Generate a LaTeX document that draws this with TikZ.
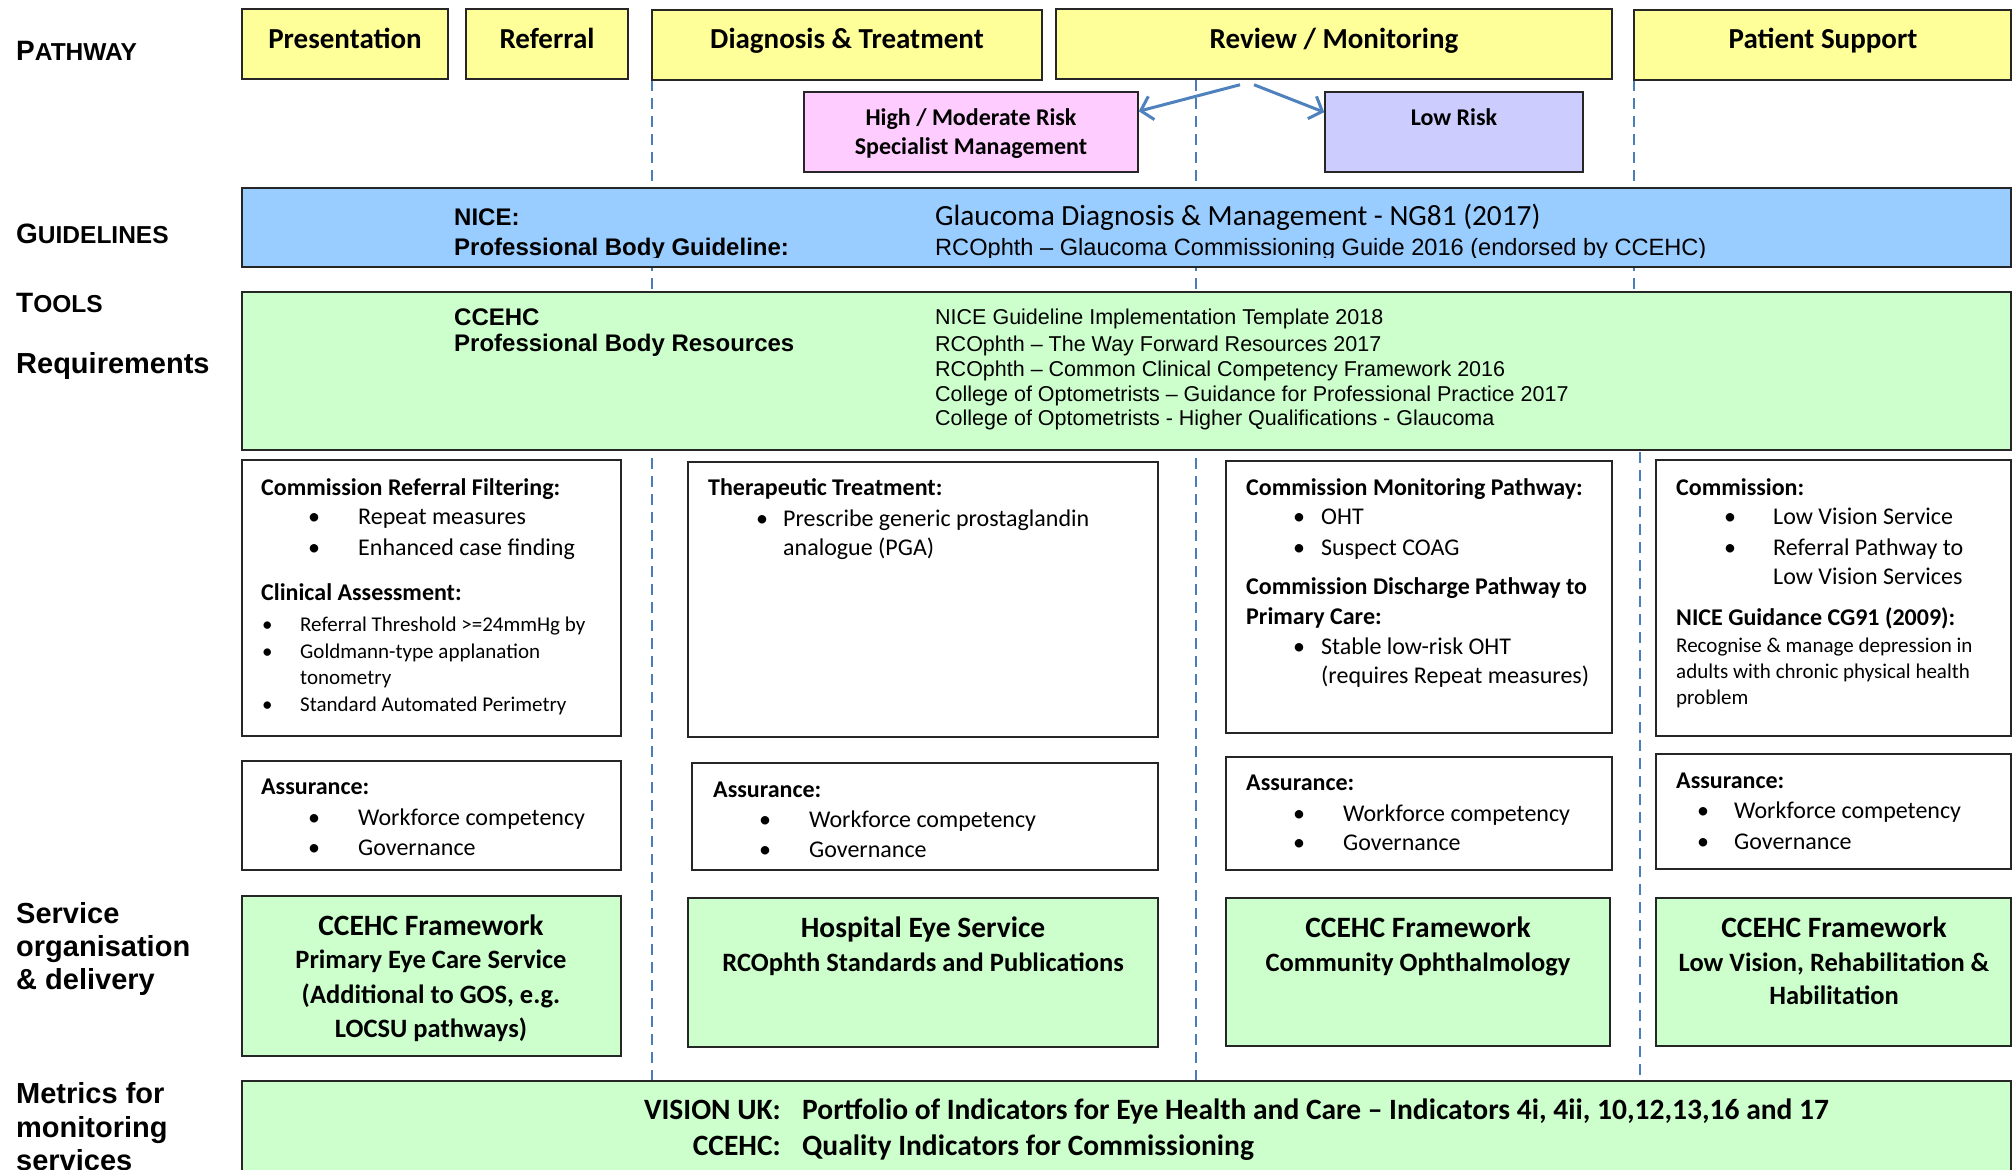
\documentclass[tikz,border=0pt]{standalone}
\usepackage{fontspec}
\setmainfont{Carlito}
\newfontfamily\arialf{Liberation Sans}
\usetikzlibrary{fit,arrows.meta}
\newcommand\fs[1]{\fontsize{#1}{#1}\selectfont}
\definecolor{yel}{HTML}{FFFF99}
\definecolor{pnk}{HTML}{FFCCFF}
\definecolor{lav}{HTML}{CCCCFF}
\definecolor{blu}{HTML}{99CCFF}
\definecolor{grn}{HTML}{CCFFCC}
\definecolor{dashblue}{HTML}{4A7EBB}
\definecolor{arrblue}{HTML}{4F81BD}
\newcommand\mkbox[6]{\node[bx,fill=#2,fit={(#3,#4)(#5,#6)}] (#1) {};}
\tikzset{
  bx/.style={draw=black!85, line width=1.5pt, inner sep=0pt},
  lbl/.style={anchor=base west, inner sep=0pt, font=\arialf\bfseries},
  tl/.style={anchor=base west, inner sep=0pt},
  tc/.style={anchor=base, inner sep=0pt},
  tr/.style={anchor=base east, inner sep=0pt},
  dline/.style={draw=dashblue, dash pattern=on 11pt off 7pt, line width=2.2pt},
  arr/.style={draw=arrblue, line width=3pt, -{Straight Barb[length=11pt,width=24pt,line width=3pt]}},
  hd/.style={tc, font=\fs{29}\bfseries},
  bh/.style={tl, font=\fs{24}\bfseries},
  bt/.style={tl, font=\fs{24}},
  st/.style={tl, font=\fs{21}},
  svt/.style={tc, font=\fs{29.5}\bfseries},
  svs/.style={tc, font=\fs{26.5}\bfseries},
  ar/.style={tl, font=\arialf\fs{21.5}},
  ab/.style={tl, font=\arialf\bfseries\fs{24}},
  mt/.style={font=\fs{29.5}\bfseries},
}
\begin{document}
\begin{tikzpicture}[x=1pt,y=-1pt]
\useasboundingbox (0,0) rectangle (2014,1170);
\fill[white] (0,0) rectangle (2014,1170);
% dashed column separators
\coordinate (d1t) at (652,80);  \coordinate (d1b) at (652,1081);
\coordinate (d2t) at (1196,80); \coordinate (d2b) at (1196,1081);
\coordinate (d3t) at (1634,80); \coordinate (d3m) at (1634,452);
\coordinate (d4t) at (1640,452); \coordinate (d4b) at (1640,1081);
\draw[dline] (d1t) -- (d1b);
\draw[dline] (d2t) -- (d2b);
\draw[dline] (d3t) -- (d3m);
\draw[dline] (d4t) -- (d4b);

% pathway boxes
\mkbox{pres}{yel}{242}{9}{448}{79}
\mkbox{refb}{yel}{466}{9}{628}{79}
\mkbox{diag}{yel}{652}{10}{1042}{80}
\mkbox{rev}{yel}{1056}{9}{1612}{79}
\mkbox{pat}{yel}{1634}{10}{2011}{80}
\node[hd] (tpres) at (345,48) {Presentation};
\node[hd] (tref) at (547,48) {Referral};
\node[hd] (tdiag) at (847,48) {Diagnosis \& Treatment};
\node[hd] (trev) at (1334,48) {Review / Monitoring};
\node[hd] (tpat) at (1823,48) {Patient Support};

\mkbox{high}{pnk}{804}{92}{1138}{172}
\mkbox{low}{lav}{1325}{92}{1583}{172}
\node[tc,font=\fs{24}\bfseries] (thigh1) at (971,125) {High / Moderate Risk};
\node[tc,font=\fs{24}\bfseries] (thigh2) at (971,154) {Specialist Management};
\node[tc,font=\fs{24}\bfseries] (tlow) at (1454,125) {Low Risk};
\draw[arr] ([xshift=-94pt,yshift=-5pt]rev.south) -- ([yshift=-20pt]high.north east);
\draw[arr] ([xshift=-80pt,yshift=-5pt]rev.south) -- ([yshift=-21pt]low.north west);

% left labels
\node[lbl] (lpath) at (16,60) {{\fs{28}P}{\fs{24.5}ATHWAY}};
\node[lbl] (lguide) at (16,243) {{\fs{28}G}{\fs{24.5}UIDELINES}};
\node[lbl] (ltools) at (16,312) {{\fs{28}T}{\fs{24.5}OOLS}};
\node[lbl,font=\arialf\bfseries\fs{29}] (lreq) at (16,373) {Requirements};
\node[lbl,font=\arialf\bfseries\fs{29}] (lsv1) at (16,923) {Service};
\node[lbl,font=\arialf\bfseries\fs{29}] (lsv2) at (16,956) {organisation};
\node[lbl,font=\arialf\bfseries\fs{29}] (lsv3) at (16,989) {\& delivery};
\node[lbl,font=\arialf\bfseries\fs{29}] (lme1) at (16,1103) {Metrics for};
\node[lbl,font=\arialf\bfseries\fs{29}] (lme2) at (16,1137) {monitoring};
\node[lbl,font=\arialf\bfseries\fs{29}] (lme3) at (16,1170) {services};

% guidelines
\mkbox{guide}{blu}{242}{188}{2011}{267}
\node[ab] (gnice) at (454,225) {NICE:};
\node[tl,font=\fs{29.3}] (gng) at (935,225) {Glaucoma Diagnosis \& Management - NG81 (2017)};
\begin{scope}
\clip (440,232) rectangle (1990,257.5);
\node[ab] (gprof) at (454,255) {Professional Body Guideline:};
\node[tl,font=\arialf\fs{23.6}] (grc) at (935,255) {RCOphth – Glaucoma Commissioning Guide 2016 (endorsed by CCEHC)};
\end{scope}

% tools
\mkbox{tools}{grn}{242}{292}{2011}{450}
\node[ab] (tcc) at (454,325) {CCEHC};
\node[ab] (tpb) at (454,351) {Professional Body Resources};
\node[ar] (tr1) at (935,324) {NICE Guideline Implementation Template 2018};
\node[ar] (tr2) at (935,351) {RCOphth – The Way Forward Resources 2017};
\node[ar] (tr3) at (935,376) {RCOphth – Common Clinical Competency Framework 2016};
\node[ar] (tr4) at (935,401) {College of Optometrists – Guidance for Professional Practice 2017};
\node[ar] (tr5) at (935,425) {College of Optometrists - Higher Qualifications - Glaucoma};

% column boxes
\mkbox{c1}{white}{242}{460}{621}{736}
\mkbox{c2}{white}{688}{462}{1158}{737}
\mkbox{c3}{white}{1226}{461}{1612}{733}
\mkbox{c4}{white}{1656}{460}{2011}{736}

% c1
\node[bh] (c1h) at (261,495) {Commission Referral Filtering:};
\node[bt] (c1b1) at (308,524) {•}; \node[bt] (c1t1) at (358,524) {Repeat measures};
\node[bt] (c1b2) at (308,555) {•}; \node[bt] (c1t2) at (358,555) {Enhanced case finding};
\node[bh] (c1h2) at (261,600) {Clinical Assessment:};
\node[st] (c1b3) at (262,631) {•}; \node[st] (c1t3) at (300,631) {Referral Threshold >=24mmHg by};
\node[st] (c1b4) at (262,658) {•}; \node[st] (c1t4) at (300,658) {Goldmann-type applanation};
\node[st] (c1t5) at (300,684) {tonometry};
\node[st] (c1b6) at (262,711) {•}; \node[st] (c1t6) at (300,711) {Standard Automated Perimetry};

% c2
\node[bh] (c2h) at (708,495) {Therapeutic Treatment:};
\node[bt] (c2b1) at (756,526) {•}; \node[bt] (c2t1) at (783,526) {Prescribe generic prostaglandin};
\node[bt] (c2t2) at (783,555) {analogue (PGA)};

% c3
\node[bh] (c3h) at (1246,495) {Commission Monitoring Pathway:};
\node[bt] (c3b1) at (1293,524) {•}; \node[bt] (c3t1) at (1321,524) {OHT};
\node[bt] (c3b2) at (1293,555) {•}; \node[bt] (c3t2) at (1321,555) {Suspect COAG};
\node[bh] (c3h2) at (1246,594) {Commission Discharge Pathway to};
\node[bh] (c3h3) at (1246,624) {Primary Care:};
\node[bt] (c3b3) at (1293,654) {•}; \node[bt] (c3t3) at (1321,654) {Stable low-risk OHT};
\node[bt] (c3t4) at (1321,683) {(requires Repeat measures)};

% c4
\node[bh] (c4h) at (1676,495) {Commission:};
\node[bt] (c4b1) at (1724,524) {•}; \node[bt] (c4t1) at (1773,524) {Low Vision Service};
\node[bt] (c4b2) at (1724,555) {•}; \node[bt] (c4t2) at (1773,555) {Referral Pathway to};
\node[bt] (c4t3) at (1773,584) {Low Vision Services};
\node[bh] (c4h2) at (1676,625) {NICE Guidance CG91 (2009):};
\node[st] (c4t4) at (1676,652) {Recognise \& manage depression in};
\node[st] (c4t5) at (1676,678) {adults with chronic physical health};
\node[st] (c4t6) at (1676,704) {problem};

% assurance boxes
\mkbox{a1}{white}{242}{761}{621}{870}
\mkbox{a2}{white}{692}{763}{1158}{870}
\mkbox{a3}{white}{1226}{757}{1612}{870}
\mkbox{a4}{white}{1656}{754}{2011}{869}
\node[bh] (a1h) at (261,794) {Assurance:};
\node[bt] (a1b1) at (308,825) {•}; \node[bt] (a1t1) at (358,825) {Workforce competency};
\node[bt] (a1b2) at (308,855) {•}; \node[bt] (a1t2) at (358,855) {Governance};
\node[bh] (a2h) at (713,797) {Assurance:};
\node[bt] (a2b1) at (759,827) {•}; \node[bt] (a2t1) at (809,827) {Workforce competency};
\node[bt] (a2b2) at (759,857) {•}; \node[bt] (a2t2) at (809,857) {Governance};
\node[bh] (a3h) at (1246,790) {Assurance:};
\node[bt] (a3b1) at (1293,821) {•}; \node[bt] (a3t1) at (1343,821) {Workforce competency};
\node[bt] (a3b2) at (1293,850) {•}; \node[bt] (a3t2) at (1343,850) {Governance};
\node[bh] (a4h) at (1676,788) {Assurance:};
\node[bt] (a4b1) at (1697,818) {•}; \node[bt] (a4t1) at (1734,818) {Workforce competency};
\node[bt] (a4b2) at (1697,849) {•}; \node[bt] (a4t2) at (1734,849) {Governance};

% service boxes
\mkbox{s1}{grn}{242}{896}{621}{1056}
\mkbox{s2}{grn}{688}{898}{1158}{1047}
\mkbox{s3}{grn}{1226}{898}{1610}{1046}
\mkbox{s4}{grn}{1656}{898}{2011}{1046}
\node[svt] (s1a) at (431,935) {CCEHC Framework};
\node[svs] (s1b) at (431,968) {Primary Eye Care Service};
\node[svs] (s1c) at (431,1003) {(Additional to GOS, e.g.};
\node[svs] (s1d) at (431,1037) {LOCSU pathways)};
\node[svt] (s2a) at (923,937) {Hospital Eye Service};
\node[svs] (s2b) at (923,971) {RCOphth Standards and Publications};
\node[svt] (s3a) at (1418,937) {CCEHC Framework};
\node[svs] (s3b) at (1418,971) {Community Ophthalmology};
\node[svt] (s4a) at (1834,937) {CCEHC Framework};
\node[svs] (s4b) at (1834,971) {Low Vision, Rehabilitation \&};
\node[svs] (s4c) at (1834,1004) {Habilitation};

% metrics
\mkbox{met}{grn}{242}{1081}{2011}{1200}
\node[tr,mt] (mv) at (781,1119) {VISION UK:};
\node[tl,mt] (mvt) at (802,1119) {Portfolio of Indicators for Eye Health and Care – Indicators 4i, 4ii, 10,12,13,16 and 17};
\node[tr,mt] (mc) at (781,1155) {CCEHC:};
\node[tl,mt] (mct) at (802,1155) {Quality Indicators for Commissioning};
\end{tikzpicture}
\end{document}
